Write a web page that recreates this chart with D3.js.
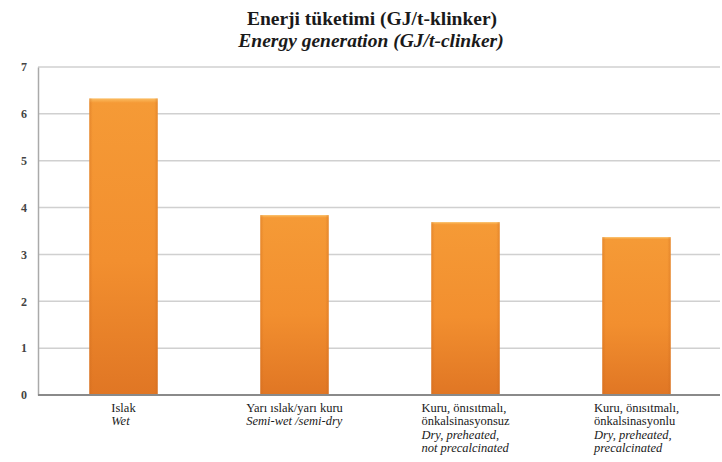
<!DOCTYPE html>
<html>
<head>
<meta charset="utf-8">
<script src="https://cdn.jsdelivr.net/npm/d3@7"></script>
<style>
  html, body { margin: 0; padding: 0; background: #fff; }
  svg { display: block; }
</style>
</head>
<body>
<svg id="chart" width="722" height="462"></svg>
<script>
// Kiln process types (Turkish / English, each split into lines)
const categoriesTr = [
  ["Islak"],
  ["Yarı ıslak/yarı kuru"],
  ["Kuru, önısıtmalı,", "önkalsinasyonsuz"],
  ["Kuru, önısıtmalı,", "önkalsinasyonlu"]
];
const categoriesEn = [
  ["Wet"],
  ["Semi-wet /semi-dry"],
  ["Dry, preheated,", "not precalcinated"],
  ["Dry, preheated,", "precalcinated"]
];
const categoryKeys = ["wet", "semi", "dryNoPre", "dryPre"];
// Energy consumption, GJ per tonne clinker
const energyValues = [6.33, 3.84, 3.69, 3.37];
const yTicks = [0, 1, 2, 3, 4, 5, 6, 7];
const titleTr = "Enerji tüketimi (GJ/t-klinker)";
const titleEn = "Energy generation (GJ/t-clinker)";

const SERIF = "'Liberation Serif', 'Times New Roman', 'DejaVu Serif', serif";

const svg = d3.select("#chart").attr("font-family", SERIF);
const margin = { left: 38, right: 0, top: 67, bottom: 67 };
const W = 722, H = 462;

const x = d3.scaleBand()
  .domain(categoryKeys)
  .range([margin.left, W - margin.right])
  .paddingInner(0.6)
  .paddingOuter(0.3);

const y = d3.scaleLinear()
  .domain([0, 7])
  .range([H - margin.bottom, margin.top]);

// Gradients for the bars
const defs = svg.append("defs");
const gv = defs.append("linearGradient").attr("id", "barV")
  .attr("x1", 0).attr("y1", 0).attr("x2", 0).attr("y2", 1);
gv.append("stop").attr("offset", "0%").attr("stop-color", "#fbbd62");
gv.append("stop").attr("offset", "1.5%").attr("stop-color", "#f59a36");
gv.append("stop").attr("offset", "55%").attr("stop-color", "#f28f2f");
gv.append("stop").attr("offset", "100%").attr("stop-color", "#e07624");
const gh = defs.append("linearGradient").attr("id", "barH")
  .attr("x1", 0).attr("y1", 0).attr("x2", 1).attr("y2", 0);
gh.append("stop").attr("offset", "0%").attr("stop-color", "#c8651a").attr("stop-opacity", 0.35);
gh.append("stop").attr("offset", "5%").attr("stop-color", "#c8651a").attr("stop-opacity", 0);
gh.append("stop").attr("offset", "95%").attr("stop-color", "#c8651a").attr("stop-opacity", 0);
gh.append("stop").attr("offset", "100%").attr("stop-color", "#c8651a").attr("stop-opacity", 0.35);

// Gridlines
svg.append("g")
  .selectAll("line")
  .data(yTicks.filter(d => d > 0))
  .join("line")
  .attr("x1", margin.left).attr("x2", 720)
  .attr("y1", d => y(d)).attr("y2", d => y(d))
  .attr("stroke", "#d0d0d0")
  .attr("stroke-width", 1.5);

// Y axis
const yAxis = svg.append("g")
  .attr("transform", `translate(${margin.left},0)`)
  .call(d3.axisLeft(y).tickValues(yTicks).tickSize(0).tickPadding(11).tickFormat(d3.format("d")));
yAxis.attr("font-family", SERIF);
yAxis.select(".domain").attr("stroke", "#aaaaaa").attr("stroke-width", 1.5);
yAxis.selectAll("text")
  .attr("font-family", SERIF)
  .attr("font-size", 12)
  .attr("font-weight", "bold")
  .attr("fill", "#444");

// Bars
const bars = svg.append("g").selectAll("g")
  .data(energyValues.map((v, i) => ({ key: categoryKeys[i], v })))
  .join("g");
bars.append("rect")
  .attr("x", d => x(d.key))
  .attr("y", d => y(d.v))
  .attr("width", x.bandwidth())
  .attr("height", d => y(0) - y(d.v))
  .attr("fill", "url(#barV)");
bars.append("rect")
  .attr("x", d => x(d.key))
  .attr("y", d => y(d.v))
  .attr("width", x.bandwidth())
  .attr("height", d => y(0) - y(d.v))
  .attr("fill", "url(#barH)");

// Baseline
svg.append("line")
  .attr("x1", margin.left).attr("x2", 720)
  .attr("y1", y(0)).attr("y2", y(0))
  .attr("stroke", "#8a8a8a")
  .attr("stroke-width", 2);

// Category labels: left-aligned blocks centred under each bar
const lineH = 13.3;
categoryKeys.forEach((k, i) => {
  const lines = categoriesTr[i].map(t => ({ t, it: false }))
    .concat(categoriesEn[i].map(t => ({ t, it: true })));
  const g = svg.append("g");
  const texts = g.selectAll("text")
    .data(lines)
    .join("text")
    .attr("y", (d, j) => y(0) + 17 + j * lineH)
    .attr("font-family", SERIF)
    .attr("font-size", 12.5)
    .attr("font-style", d => d.it ? "italic" : "normal")
    .attr("fill", "#1a1a1a")
    .text(d => d.t);
  let maxW = 0;
  texts.each(function () { maxW = Math.max(maxW, this.getComputedTextLength()); });
  texts.attr("x", x(k) + x.bandwidth() / 2 - maxW / 2);
});

// Title
svg.append("text")
  .attr("x", 372).attr("y", 25)
  .attr("text-anchor", "middle")
  .attr("font-family", SERIF)
  .attr("font-size", 19.5)
  .attr("font-weight", "bold")
  .attr("fill", "#1a1a1a")
  .text(titleTr);
svg.append("text")
  .attr("x", 371).attr("y", 47)
  .attr("text-anchor", "middle")
  .attr("font-family", SERIF)
  .attr("font-size", 19.5)
  .attr("font-weight", "bold")
  .attr("font-style", "italic")
  .attr("fill", "#1a1a1a")
  .text(titleEn);
</script>
</body>
</html>
